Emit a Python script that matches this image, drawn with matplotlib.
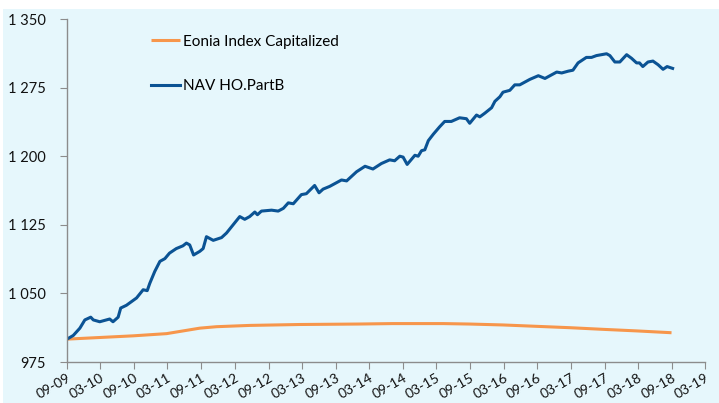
import matplotlib
matplotlib.use("Agg")
import matplotlib.pyplot as plt
import matplotlib.dates as mdates
from matplotlib.patches import Rectangle
from matplotlib.ticker import FuncFormatter
import pandas as pd

# colors
c_bg = "#E6F7FC"
c_nav = "#0B5394"
c_eonia = "#F7964B"
c_axis = "#8C8C8C"

nav_dates = [
    "2009-09-01", "2009-10-05", "2009-11-10", "2009-12-07", "2010-01-08", "2010-01-22",
    "2010-02-26", "2010-04-21", "2010-05-09", "2010-06-06", "2010-06-20", "2010-07-21",
    "2010-09-14", "2010-10-20", "2010-11-11", "2010-11-25", "2010-12-22", "2011-01-19",
    "2011-02-15", "2011-03-12", "2011-04-18", "2011-05-24", "2011-06-12", "2011-06-30",
    "2011-07-21", "2011-08-24", "2011-09-11", "2011-09-29", "2011-11-05", "2011-12-20",
    "2012-01-16", "2012-02-21", "2012-03-28", "2012-04-24", "2012-05-21", "2012-06-18",
    "2012-07-02", "2012-07-24", "2012-09-17", "2012-10-23", "2012-11-20", "2012-12-17",
    "2013-01-13", "2013-02-26", "2013-03-25", "2013-05-09", "2013-06-02", "2013-06-24",
    "2013-07-30", "2013-10-02", "2013-10-30", "2013-12-23", "2014-02-07", "2014-03-22",
    "2014-05-07", "2014-06-21", "2014-07-18", "2014-08-15", "2014-09-02", "2014-09-24",
    "2014-11-05", "2014-11-23", "2014-12-11", "2014-12-29", "2015-01-17", "2015-02-13",
    "2015-03-19", "2015-04-16", "2015-05-22", "2015-07-06", "2015-08-12", "2015-08-30",
    "2015-10-06", "2015-10-24", "2015-11-20", "2015-12-27", "2016-01-14", "2016-02-10",
    "2016-02-27", "2016-04-04", "2016-05-01", "2016-05-28", "2016-07-22", "2016-09-06",
    "2016-10-12", "2016-12-15", "2017-01-11", "2017-02-16", "2017-03-13", "2017-04-10",
    "2017-05-25", "2017-06-22", "2017-07-19", "2017-09-12", "2017-09-30", "2017-10-27",
    "2017-11-23", "2017-12-30", "2018-01-26", "2018-02-22", "2018-03-10", "2018-03-28",
    "2018-04-25", "2018-05-22", "2018-06-19", "2018-07-16", "2018-08-07", "2018-09-06",
]
nav_values = [
    1000, 1004, 1012, 1021, 1024, 1021,
    1019, 1022, 1019, 1024, 1034, 1037,
    1045, 1054, 1053, 1061, 1074, 1085,
    1088, 1094, 1099, 1102, 1105, 1103,
    1092, 1096, 1099, 1112, 1108, 1111,
    1116, 1125, 1134, 1131, 1134, 1139,
    1136, 1140, 1141, 1140, 1143, 1149,
    1148, 1158, 1159, 1168, 1160, 1164,
    1167, 1174, 1173, 1183, 1189, 1186,
    1192, 1196, 1195, 1200, 1199, 1191,
    1201, 1200, 1206, 1207, 1217, 1224,
    1232, 1238, 1238, 1242, 1241, 1236,
    1245, 1243, 1247, 1253, 1260, 1265,
    1270, 1272, 1278, 1278, 1284, 1288,
    1285, 1292, 1291, 1293, 1294, 1302,
    1308, 1308, 1310, 1312, 1310, 1303,
    1303, 1311, 1307, 1302, 1302, 1298,
    1303, 1304, 1300, 1295, 1298, 1296,
]

eonia_dates = [
    "2009-09-01", "2010-08-26", "2011-02-24", "2011-08-24", "2011-11-23", "2012-05-21",
    "2013-02-18", "2013-12-30", "2014-07-09", "2015-04-07", "2015-08-30", "2016-02-27",
    "2016-08-27", "2017-02-25", "2017-08-24", "2018-02-22", "2018-08-31",
]
eonia_values = [
    1000.0, 1003.6, 1006.0, 1012.0, 1013.6, 1015.0,
    1016.0, 1016.5, 1017.0, 1017.0, 1016.5, 1015.5,
    1014.0, 1012.5, 1010.7, 1009.0, 1007.0,
]

tick_dates = pd.date_range("2009-09-01", "2019-03-01", freq="6MS")
y_ticks = [975, 1050, 1125, 1200, 1275, 1350]

plt.rcParams["font.family"] = ["Lato", "DejaVu Sans"]

fig = plt.figure(figsize=(7.19, 4.03), dpi=100, facecolor="white")
fig.patches.append(Rectangle((0.004, 0), 0.996, 1 - 9 / 403, transform=fig.transFigure,
                             facecolor=c_bg, edgecolor="none", zorder=-10))
ax = fig.add_axes([67 / 719, 1 - 362 / 403, (705 - 67) / 719, (362 - 19) / 403])
ax.set_facecolor(c_bg)

ax.plot(pd.to_datetime(eonia_dates), eonia_values, color=c_eonia, lw=2.2,
        label="Eonia Index Capitalized", solid_capstyle="butt")
ax.plot(pd.to_datetime(nav_dates), nav_values, color=c_nav, lw=2.2,
        label="NAV HO.PartB", solid_joinstyle="round")

ax.set_xlim(tick_dates[0], tick_dates[-1])
ax.set_ylim(975, 1350)
ax.set_yticks(y_ticks)
ax.yaxis.set_major_formatter(FuncFormatter(lambda v, p: "{:,.0f}".format(v).replace(",", " ")))
ax.set_xticks(tick_dates)
ax.xaxis.set_major_formatter(mdates.DateFormatter("%m-%y"))

for s in ["top", "right"]:
    ax.spines[s].set_visible(False)
for s in ["left", "bottom"]:
    ax.spines[s].set_color(c_axis)
    ax.spines[s].set_linewidth(1.0)

ax.tick_params(axis="y", length=5, color=c_axis, pad=10, labelsize=10.5, labelcolor="#111111")
ax.tick_params(axis="x", length=5, color=c_axis, pad=2, labelsize=10, labelcolor="#111111")
for lbl in ax.get_xticklabels():
    lbl.set_rotation(30)
    lbl.set_ha("right")
    lbl.set_va("top")
    lbl.set_rotation_mode("anchor")

ax.legend(loc="upper left", bbox_to_anchor=(143 / 719, 1 - 27 / 403),
          bbox_transform=fig.transFigure, frameon=False, fontsize=11,
          handlelength=1.9, handletextpad=0.25, labelspacing=2.0, borderpad=0)

fig.savefig("out.png", dpi=100, facecolor=fig.get_facecolor())
